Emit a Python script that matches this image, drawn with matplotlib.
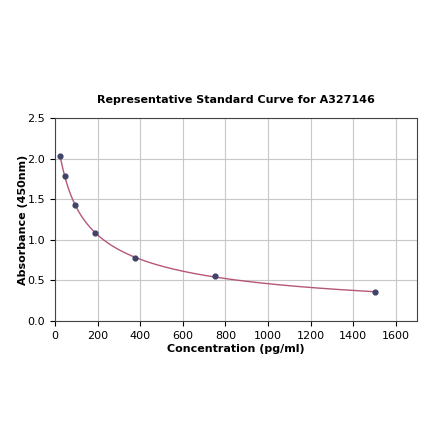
import matplotlib
matplotlib.use("Agg")
import matplotlib.pyplot as plt
import numpy as np

conc = [23.44, 46.88, 93.75, 187.5, 375, 750, 1500]
absorb = [2.03, 1.79, 1.43, 1.09, 0.78, 0.55, 0.36]

# smooth fit through the standards (cubic in log-log space)
coef = np.polyfit(np.log(conc), np.log(absorb), 3)
xs = np.linspace(min(conc), max(conc), 400)
ys = np.exp(np.polyval(coef, np.log(xs)))

fig = plt.figure(figsize=(4.4, 4.41), dpi=100)
ax = fig.add_axes([0.125, 0.272, 0.823, 0.46])

ax.plot(xs, ys, color='#b5577a', linewidth=1.0, zorder=2)
ax.scatter(conc, absorb, s=12, color='#404468', zorder=3)

ax.set_xlim(0, 1700)
ax.set_ylim(0, 2.5)
ax.set_xticks(np.arange(0, 1601, 200))
ax.set_yticks(np.arange(0, 2.51, 0.5))
ax.tick_params(labelsize=8)
ax.grid(True, color='#c8c8c8', linewidth=0.8)
ax.set_axisbelow(True)
for s in ax.spines.values():
    s.set_color('#444444')

ax.set_title("Representative Standard Curve for A327146", fontsize=8,
             fontweight='bold', pad=11)
ax.set_xlabel("Concentration (pg/ml)", fontsize=8, fontweight='bold',
              labelpad=2)
ax.set_ylabel("Absorbance (450nm)", fontsize=8, fontweight='bold',
              labelpad=0)

fig.savefig("out.png", dpi=100)
